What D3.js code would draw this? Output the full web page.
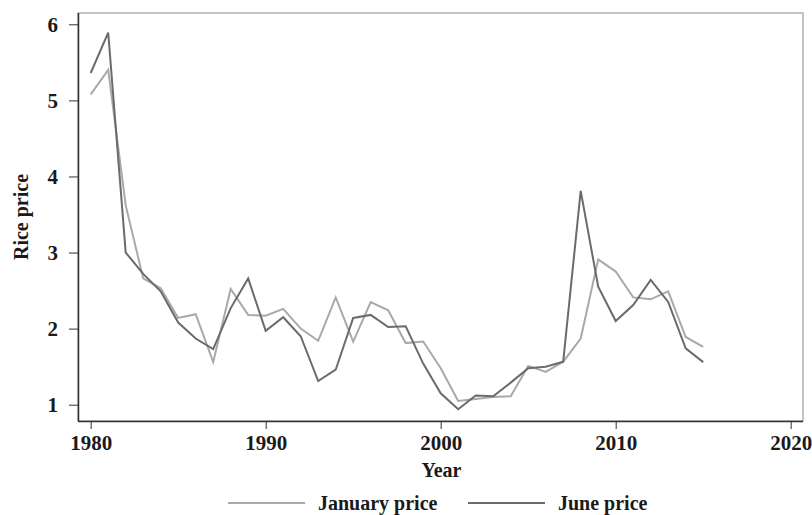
<!DOCTYPE html>
<html>
<head>
<meta charset="utf-8">
<script src="https://cdn.jsdelivr.net/npm/d3@7"></script>
<style>
  body { margin: 0; background: #fff; }
  svg { display: block; font-family: "Liberation Serif", "Times New Roman", serif; }
  .axis path, .axis line { stroke: #333; }
  .axis text { font-size: 21px; font-weight: bold; fill: #1a1a1a; font-family: "Liberation Serif", serif; }
</style>
</head>
<body>
<script>
// ** data
const years = d3.range(1980, 2016);
const januaryPrice = [
  5.08, 5.40, 3.62, 2.66, 2.53, 2.14, 2.19, 1.56, 2.52, 2.18,
  2.17, 2.26, 2.00, 1.84, 2.41, 1.83, 2.35, 2.24, 1.81, 1.83,
  1.48, 1.05, 1.075, 1.10, 1.11, 1.51, 1.43, 1.565, 1.87, 2.91,
  2.75, 2.41, 2.385, 2.49, 1.89, 1.76
];
const junePrice = [
  5.36, 5.89, 3.00, 2.72, 2.49, 2.08, 1.87, 1.73, 2.27, 2.66,
  1.97, 2.15, 1.90, 1.31, 1.46, 2.14, 2.18, 2.02, 2.03, 1.54,
  1.15, 0.94, 1.12, 1.11, 1.29, 1.48, 1.50, 1.565, 3.81, 2.55,
  2.10, 2.31, 2.64, 2.35, 1.74, 1.56
];
const xTicks = [1980, 1990, 2000, 2010, 2020];
const yTicks = [1, 2, 3, 4, 5, 6];
const series = [
  { name: "January price", values: januaryPrice, color: "#a9a9a9" },
  { name: "June price", values: junePrice, color: "#6b6b6b" }
];

const width = 812, height = 515;
const frame = { left: 78, top: 13, right: 803, bottom: 421 };

const svg = d3.select("body").append("svg")
  .attr("width", width)
  .attr("height", height);

const x = d3.scaleLinear().domain([1980, 2020]).range([90.7, 790.7]);
const y = d3.scaleLinear().domain([1, 6]).range([404.7, 24.3]);

// plot frame (top/right)
svg.append("rect")
  .attr("x", frame.left)
  .attr("y", frame.top)
  .attr("width", frame.right - frame.left)
  .attr("height", frame.bottom - frame.top)
  .attr("fill", "none")
  .attr("stroke", "#8a8a8a")
  .attr("stroke-width", 1);

// x axis
svg.append("g")
  .attr("class", "axis")
  .attr("transform", `translate(0,${frame.bottom})`)
  .call(d3.axisBottom(x).tickValues(xTicks).tickFormat(d3.format("d")).tickSize(8).tickPadding(6))
  .call(g => g.select(".domain").attr("d", `M${frame.left},0.5H${frame.right}`).attr("stroke-width", 1.5));

// y axis
svg.append("g")
  .attr("class", "axis")
  .attr("transform", `translate(${frame.left},0)`)
  .call(d3.axisLeft(y).tickValues(yTicks).tickFormat(d3.format("d")).tickSize(9).tickPadding(11))
  .call(g => g.select(".domain").attr("d", `M0.5,${frame.top}V${frame.bottom}`).attr("stroke-width", 1.5));

// lines
const line = d3.line()
  .x((d, i) => x(years[i]))
  .y(d => y(d));

svg.append("g")
  .selectAll("path")
  .data(series)
  .join("path")
  .attr("d", d => line(d.values))
  .attr("fill", "none")
  .attr("stroke", d => d.color)
  .attr("stroke-width", 2)
  .attr("stroke-linejoin", "miter");

// axis titles
svg.append("text")
  .attr("x", (frame.left + frame.right) / 2 + 1)
  .attr("y", 477)
  .attr("text-anchor", "middle")
  .attr("font-size", 20)
  .attr("font-weight", "bold")
  .attr("fill", "#1a1a1a")
  .text("Year");

svg.append("text")
  .attr("transform", "translate(28,217) rotate(-90)")
  .attr("text-anchor", "middle")
  .attr("font-size", 20)
  .attr("font-weight", "bold")
  .attr("fill", "#1a1a1a")
  .text("Rice price");

// legend
const legend = svg.append("g")
  .selectAll("g")
  .data(series)
  .join("g")
  .attr("transform", (d, i) => `translate(${i === 0 ? 228 : 468},503)`);

legend.append("line")
  .attr("x1", 0).attr("x2", 77)
  .attr("stroke", d => d.color)
  .attr("stroke-width", 2);

legend.append("text")
  .attr("x", 90)
  .attr("y", 7)
  .attr("font-size", 20)
  .attr("font-weight", "bold")
  .attr("fill", "#1a1a1a")
  .text(d => d.name);
</script>
</body>
</html>
